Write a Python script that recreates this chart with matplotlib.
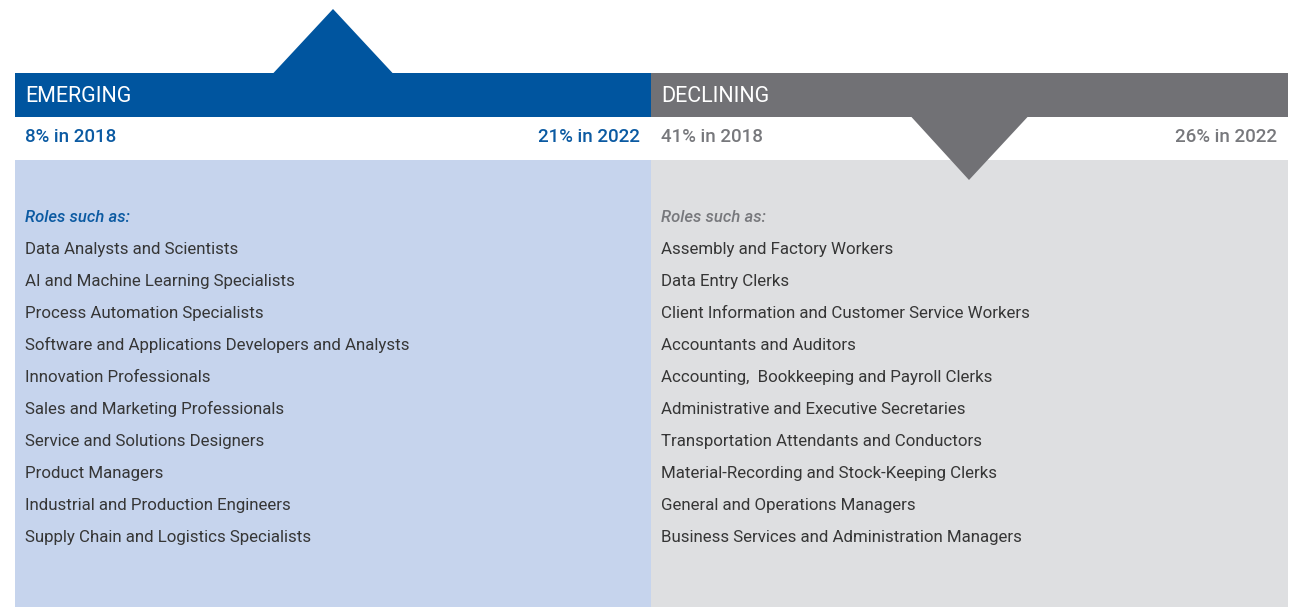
import matplotlib
matplotlib.use('Agg')
import matplotlib.pyplot as plt
from matplotlib.patches import Rectangle, Polygon

plt.rcParams['font.family'] = ['Roboto', 'DejaVu Sans']

# data
groups = ['EMERGING', 'DECLINING']
share_2018 = [8, 41]
share_2022 = [21, 26]
years = [2018, 2022]
emerging_roles = [
    'Data Analysts and Scientists',
    'AI and Machine Learning Specialists',
    'Process Automation Specialists',
    'Software and Applications Developers and Analysts',
    'Innovation Professionals',
    'Sales and Marketing Professionals',
    'Service and Solutions Designers',
    'Product Managers',
    'Industrial and Production Engineers',
    'Supply Chain and Logistics Specialists',
]
declining_roles = [
    'Assembly and Factory Workers',
    'Data Entry Clerks',
    'Client Information and Customer Service Workers',
    'Accountants and Auditors',
    'Accounting,  Bookkeeping and Payroll Clerks',
    'Administrative and Executive Secretaries',
    'Transportation Attendants and Conductors',
    'Material-Recording and Stock-Keeping Clerks',
    'General and Operations Managers',
    'Business Services and Administration Managers',
]

dark = ['#00559f', '#717175']
light = ['#c6d4ed', '#dedfe1']
label_col = ['#0b5aa2', '#77787c']
text_col = '#363636'

fig = plt.figure(figsize=(13.12, 6.07), dpi=100)
ax = fig.add_axes([0, 0, 1, 1])
ax.set_xlim(0, 1312)
ax.set_ylim(607, 0)
ax.axis('off')

panels = [(15, 651), (651, 1288)]
for i, (x0, x1) in enumerate(panels):
    # header bar, light body
    ax.add_patch(Rectangle((x0, 73), x1 - x0, 44, color=dark[i], lw=0))
    ax.add_patch(Rectangle((x0, 160), x1 - x0, 447, color=light[i], lw=0))
    ax.text(x0 + 10, 102, groups[i], color='white', fontsize=15.5, va='baseline', ha='left')
    ax.text(x0 + 10, 142, f'{share_2018[i]}% in {years[0]}', color=label_col[i],
            fontsize=13.5, fontweight='medium', va='baseline', ha='left')
    ax.text(x1 - 11, 142, f'{share_2022[i]}% in {years[1]}', color=label_col[i],
            fontsize=13.5, fontweight='medium', va='baseline', ha='right')
    ax.text(x0 + 10, 221.5, 'Roles such as:', color=label_col[i], fontsize=12,
            style='italic', fontweight='medium', va='baseline', ha='left')
    roles = emerging_roles if i == 0 else declining_roles
    for k, r in enumerate(roles):
        ax.text(x0 + 10, 254 + 32 * k, r, color=text_col, fontsize=12.2,
                va='baseline', ha='left')

# arrows
ax.add_patch(Polygon([(273, 73.5), (333, 9), (393, 73.5)], closed=True, color=dark[0], lw=0))
ax.add_patch(Polygon([(911, 116.5), (969, 180), (1028, 116.5)], closed=True, color=dark[1], lw=0))

fig.savefig('out.png', dpi=100)
